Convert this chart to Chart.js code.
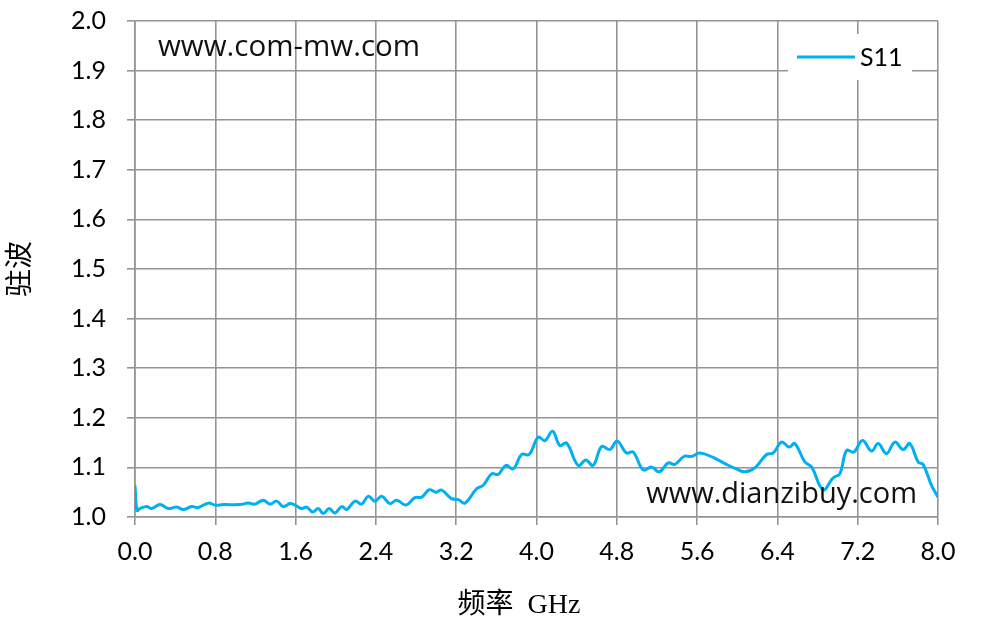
<!DOCTYPE html>
<html>
<head>
<meta charset="utf-8">
<script src="https://cdn.jsdelivr.net/npm/chart.js@4"></script>
<style>
html,body{margin:0;padding:0;background:#fff;}
#wrap{width:981px;height:637px;position:relative;}
</style>
</head>
<body>
<div id="wrap"><canvas id="c" width="981" height="637"></canvas></div>
<script>
// ---- data ----
const freqGHz = [0.00,0.02,0.05,0.117,0.166,0.249,0.332,0.415,0.481,0.565,0.630,0.730,0.797,0.879,1.046,1.128,1.195,1.278,1.345,1.411,1.477,1.544,1.594,1.660,1.710,1.770,1.826,1.875,1.935,1.992,2.059,2.109,2.191,2.258,2.324,2.390,2.457,2.540,2.607,2.699,2.789,2.856,2.931,2.998,3.055,3.154,3.220,3.287,3.403,3.469,3.553,3.619,3.695,3.768,3.852,3.927,4.017,4.084,4.160,4.233,4.300,4.415,4.492,4.565,4.648,4.731,4.804,4.897,4.963,5.063,5.146,5.222,5.312,5.378,5.468,5.545,5.628,5.760,5.893,5.990,6.076,6.175,6.292,6.358,6.441,6.517,6.574,6.673,6.740,6.856,6.955,7.022,7.089,7.161,7.248,7.338,7.404,7.487,7.570,7.653,7.719,7.802,7.852,7.935,8.000];
const s11 = [1.064,1.013,1.017,1.021,1.017,1.025,1.017,1.020,1.015,1.021,1.019,1.028,1.024,1.025,1.025,1.028,1.026,1.034,1.026,1.032,1.021,1.027,1.024,1.017,1.020,1.010,1.017,1.007,1.017,1.008,1.021,1.015,1.032,1.026,1.042,1.032,1.042,1.027,1.034,1.024,1.039,1.040,1.055,1.050,1.054,1.037,1.035,1.028,1.057,1.064,1.087,1.086,1.104,1.097,1.126,1.126,1.161,1.154,1.173,1.144,1.149,1.104,1.115,1.104,1.142,1.136,1.153,1.129,1.131,1.095,1.101,1.091,1.109,1.106,1.122,1.122,1.129,1.120,1.106,1.097,1.091,1.099,1.126,1.129,1.151,1.141,1.148,1.111,1.101,1.055,1.079,1.087,1.134,1.131,1.154,1.133,1.148,1.128,1.151,1.136,1.148,1.111,1.106,1.064,1.040];
const xTickValues = [0.0,0.8,1.6,2.4,3.2,4.0,4.8,5.6,6.4,7.2,8.0];
const yTickValues = [1.0,1.1,1.2,1.3,1.4,1.5,1.6,1.7,1.8,1.9,2.0];
const seriesName = 'S11';
const xTitle = '频率  GHz';
const yTitle = '驻波';
const watermarkTop = 'www.com-mw.com';
const watermarkBottom = 'www.dianzibuy.com';

const lineColor = '#00b0f0';
const gridColor = '#949494';
const tickFont = {family: 'Lato', size: 25};
const titleFont = {family: '"Liberation Serif", "Noto Sans CJK SC"', size: 28};

const overlay = {
  id: 'overlay',
  afterDatasetsDraw(chart) {
    const ctx = chart.ctx;
    ctx.save();
    // legend box
    ctx.fillStyle = '#fff';
    ctx.fillRect(788, 34, 124, 46);
    ctx.strokeStyle = lineColor;
    ctx.lineWidth = 3;
    ctx.beginPath();
    ctx.moveTo(797, 57); ctx.lineTo(855, 57);
    ctx.stroke();
    ctx.fillStyle = '#000';
    ctx.font = '25px Lato';
    ctx.textBaseline = 'middle';
    ctx.textAlign = 'left';
    ctx.fillText(seriesName, 860, 58);
    // watermarks
    ctx.fillStyle = '#111';
    ctx.textBaseline = 'alphabetic';
    ctx.font = '29.5px "Open Sans"';
    ctx.fillText(watermarkTop, 158, 56);
    ctx.textAlign = 'right';
    ctx.font = '29px "Open Sans"';
    ctx.fillText(watermarkBottom, 917, 503);
    ctx.restore();
  }
};

new Chart(document.getElementById('c'), {
  type: 'line',
  data: {
    datasets: [{
      label: seriesName,
      data: freqGHz.map((f, i) => ({x: f, y: s11[i]})),
      borderColor: lineColor,
      borderWidth: 3,
      pointRadius: 0,
      tension: 0.4,
      fill: false
    }]
  },
  options: {
    responsive: false,
    animation: false,
    layout: {padding: {left: 0, top: 21, right: 43, bottom: 0}},
    plugins: {legend: {display: false}, tooltip: {enabled: false}},
    scales: {
      x: {
        type: 'linear', min: 0, max: 8,
        afterBuildTicks(s) { s.ticks = xTickValues.map(v => ({value: v})); },
        afterFit(s) { s.height = 120; s.paddingLeft = 0; s.paddingRight = 0; },
        grid: {color: gridColor, lineWidth: 1.6, tickLength: 8, tickColor: gridColor},
        border: {color: gridColor, width: 1.6},
        ticks: {font: tickFont, color: '#000', padding: 12, maxRotation: 0, autoSkip: false,
          callback: v => Number(v).toFixed(1)},
        title: {display: true, text: xTitle + '\u00a0\u00a0\u00a0\u00a0\u00a0', font: titleFont, color: '#000', padding: {top: 0, bottom: 15}}
      },
      y: {
        type: 'linear', min: 1.0, max: 2.0,
        afterBuildTicks(s) { s.ticks = yTickValues.map(v => ({value: v})); },
        afterFit(s) { s.width = 135; s.paddingTop = 0; s.paddingBottom = 0; },
        grid: {color: gridColor, lineWidth: 1.6, tickLength: 8, tickColor: gridColor},
        border: {color: gridColor, width: 1.6},
        ticks: {font: tickFont, color: '#000', padding: 21, autoSkip: false,
          callback: v => Number(v).toFixed(1)},
        title: {display: true, text: yTitle, font: titleFont, color: '#000', padding: {top: 5, bottom: 0}}
      }
    }
  },
  plugins: [overlay]
});
</script>
</body>
</html>
